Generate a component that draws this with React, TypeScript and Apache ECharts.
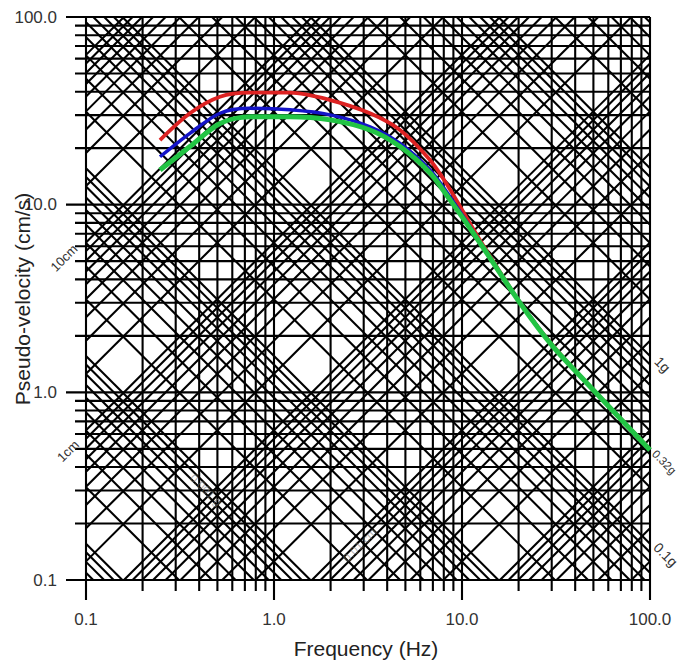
import React, { useEffect, useRef } from "react";
import * as echarts from "echarts";

// ---- axis / grid definitions ----
const tickValues = [0.1, 1, 10, 100];
const tickLabels = ["0.1", "1.0", "10.0", "100.0"];
const gridDecades = [0.1, 1, 10];
const gridMultipliers = [1, 2, 3, 4, 5, 6, 7, 8, 9];
const displacementDecadesCm = [1e-4, 1e-3, 1e-2, 1e-1, 1, 10, 100];
const accelerationDecadesG = [1e-5, 1e-4, 1e-3, 1e-2, 1e-1, 1, 10];
const G_CM = 981;

// ---- spectra (frequency Hz, pseudo-velocity cm/s) ----
const redFreq = [0.2475, 0.357, 0.516, 0.745, 1.217, 1.99, 3.24, 4.68, 6.76, 8.32, 12.5, 20.4, 30.5, 46.2, 100];
const redVel = [22.1, 30.7, 37.6, 39.5, 39.5, 36.1, 30.7, 25.0, 17.3, 12.8, 6.45, 3.0, 1.77, 1.12, 0.497];
const blueFreq = [0.2475, 0.357, 0.516, 0.745, 1.217, 1.99, 3.24, 4.68, 6.76, 8.64, 12.5, 20.4, 30.5, 46.2, 100];
const blueVel = [18.0, 24.0, 30.7, 32.6, 32.0, 30.1, 26.0, 21.2, 15.3, 11.0, 6.3, 3.0, 1.76, 1.12, 0.495];
const greenFreq = [0.2475, 0.357, 0.516, 0.745, 1.217, 1.99, 3.24, 4.68, 6.76, 8.64, 12.5, 20.4, 30.5, 46.2, 100];
const greenVel = [15.3, 20.4, 27.1, 29.4, 29.4, 28.3, 25.0, 20.4, 14.75, 10.6, 6.23, 2.98, 1.75, 1.118, 0.493];

function buildGridSegments() {
  const segs: number[][] = [];
  const fMin = 0.1, fMax = 100, vMin = 0.1, vMax = 100;
  // vertical / horizontal log grid
  const vals: number[] = [];
  gridDecades.forEach((d) => gridMultipliers.forEach((m) => vals.push(d * m)));
  vals.push(100);
  vals.forEach((v, i) => {
    const major = i % 9 === 0;
    segs.push([v, vMin, v, vMax, major ? 2 : 1]);
    segs.push([fMin, v, fMax, v, major ? 4 : 3]);
  });
  // constant displacement lines: V = 2*pi*f*D
  displacementDecadesCm.forEach((d) =>
    gridMultipliers.forEach((m) => {
      const k = 2 * Math.PI * d * m;
      const lo = Math.max(fMin, vMin / k);
      const hi = Math.min(fMax, vMax / k);
      if (hi > lo * 1.0001) segs.push([lo, k * lo, hi, k * hi, 0]);
    })
  );
  // constant acceleration lines: V = A / (2*pi*f)
  accelerationDecadesG.forEach((a) =>
    gridMultipliers.forEach((m) => {
      const c = (a * m * G_CM) / (2 * Math.PI);
      const lo = Math.max(fMin, c / vMax);
      const hi = Math.min(fMax, c / vMin);
      if (hi > lo * 1.0001) segs.push([lo, c / lo, hi, c / hi, 0]);
    })
  );
  return segs;
}

const zip = (a: number[], b: number[]) => a.map((x, i) => [x, b[i]]);

export default function App() {
  const ref = useRef<HTMLDivElement>(null);
  useEffect(() => {
    if (!ref.current) return;
    const chart = echarts.init(ref.current, undefined, { renderer: "svg" });
    const font = "Liberation Sans, Arial, sans-serif";
    const labelFmt = (v: number) => {
      const idx = tickValues.findIndex((t) => Math.abs(Math.log10(t) - Math.log10(v)) < 1e-6);
      return idx >= 0 ? tickLabels[idx] : "";
    };
    const annot = (text: string, x: number, y: number, rot: number, align: string, color = "#333", size = 14, opacity = 1) => ({
      type: "text",
      x,
      y,
      rotation: rot,
      silent: true,
      z: 50,
      style: {
        text,
        fill: color,
        opacity,
        font: `${size}px ${font}`,
        textAlign: align,
        textVerticalAlign: "middle",
        verticalAlign: "middle",
      },
    });
    chart.setOption({
      animation: false,
      backgroundColor: "#ffffff",
      grid: { left: 86, top: 17, width: 564, height: 563, containLabel: false },
      xAxis: {
        type: "log",
        logBase: 10,
        min: 0.1,
        max: 100,
        axisLine: { show: false },
        axisTick: { show: false },
        splitLine: { show: false },
        axisLabel: { formatter: labelFmt, margin: 31, fontSize: 17, color: "#333", fontFamily: font },
      },
      yAxis: {
        type: "log",
        logBase: 10,
        min: 0.1,
        max: 100,
        axisLine: { show: false },
        axisTick: { show: false },
        splitLine: { show: false },
        axisLabel: { formatter: labelFmt, margin: 29, fontSize: 17, color: "#333", fontFamily: font },
      },
      graphic: [
        annot("Frequency (Hz)", 366, 648, 0, "center", "#222", 21),
        annot("Pseudo-velocity (cm/s)", 22, 299, Math.PI / 2, "center", "#222", 21),
        annot("10cm", 64, 258, Math.PI / 4, "center", "#333", 13),
        annot("1cm", 68, 451, Math.PI / 4, "center", "#333", 13),
        annot("1g", 657, 359, -Math.PI / 4, "left", "#333", 14),
        annot("0.32g", 654, 452, -Math.PI / 4, "left", "#333", 11.5),
        annot("0.1g", 656, 545, -Math.PI / 4, "left", "#333", 14),
        annot("0.001 g", 206, 490, -Math.PI / 4, "center", "#777", 12, 0.55),
        annot("0.01 cm", 360, 545, Math.PI / 4, "center", "#777", 12, 0.55),
      ],
      series: [
        {
          type: "custom",
          clip: false,
          silent: true,
          z: 1,
          encode: { x: [0, 2], y: [1, 3] },
          data: buildGridSegments(),
          renderItem: (params: any, api: any) => {
            const a = api.coord([api.value(0), api.value(1)]);
            const b = api.coord([api.value(2), api.value(3)]);
            const kind = api.value(4);
            let x1 = a[0], y1 = a[1];
            const x2 = b[0], y2 = b[1];
            if (kind === 1) y1 += 11;
            if (kind === 2) y1 += 20;
            if (kind === 3) x1 -= 11;
            if (kind === 4) x1 -= 20;
            return {
              type: "line",
              shape: { x1, y1, x2, y2 },
              style: { stroke: "#000", lineWidth: 2.1 },
            };
          },
        },
        {
          type: "line",
          data: zip(redFreq, redVel),
          showSymbol: false,
          symbol: "none",
          smooth: 0.3,
          z: 5,
          lineStyle: { color: "#dd2222", width: 3.8 },
        },
        {
          type: "line",
          data: zip(blueFreq, blueVel),
          showSymbol: false,
          symbol: "none",
          smooth: 0.3,
          z: 6,
          lineStyle: { color: "#1414c8", width: 3.5 },
        },
        {
          type: "line",
          data: zip(greenFreq, greenVel),
          showSymbol: false,
          symbol: "none",
          smooth: 0.3,
          z: 7,
          lineStyle: { color: "#22c444", width: 5 },
        },
      ],
    });
    return () => chart.dispose();
  }, []);
  return <div ref={ref} style={{ width: 681, height: 663, position: "absolute", left: 0, top: 0 }} />;
}
